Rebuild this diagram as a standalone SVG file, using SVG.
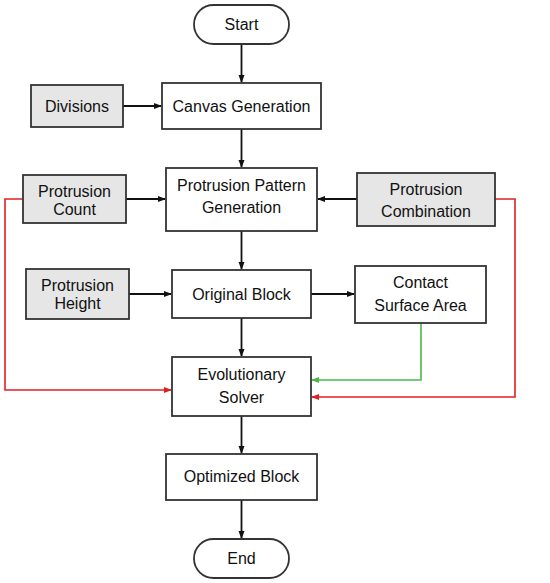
<svg xmlns="http://www.w3.org/2000/svg" width="550" height="583" viewBox="0 0 550 583">
<style>
.b{fill:#fff;stroke:#333;stroke-width:1.8}
.g{fill:#e6e6e6;stroke:#333;stroke-width:1.8}
text{font-family:"Liberation Sans",Arial,sans-serif;font-size:16px;fill:#111;text-anchor:middle}
.k{fill:none;stroke:#111;stroke-width:1.8}
.r{fill:none;stroke:#e02020;stroke-width:1.6}
.gr{fill:none;stroke:#4cb84c;stroke-width:1.6}
</style>
<defs>
<marker id="ak" markerWidth="8" markerHeight="8" refX="7" refY="4" orient="auto" markerUnits="userSpaceOnUse"><path d="M0,1 L8,4 L0,7 Z" fill="#111"/></marker>
<marker id="ar" markerWidth="8" markerHeight="8" refX="7" refY="4" orient="auto" markerUnits="userSpaceOnUse"><path d="M0,1 L8,4 L0,7 Z" fill="#e02020"/></marker>
<marker id="ag" markerWidth="8" markerHeight="8" refX="7" refY="4" orient="auto" markerUnits="userSpaceOnUse"><path d="M0,1 L8,4 L0,7 Z" fill="#4cb84c"/></marker>
</defs>
<rect width="550" height="583" fill="#fff"/>
<g id="connectors">
<line class="k" x1="241.5" y1="44" x2="241.5" y2="82" marker-end="url(#ak)"/>
<line class="k" x1="123" y1="106" x2="161" y2="106" marker-end="url(#ak)"/>
<line class="k" x1="241.5" y1="129" x2="241.5" y2="167" marker-end="url(#ak)"/>
<line class="k" x1="126" y1="199" x2="165" y2="199" marker-end="url(#ak)"/>
<line class="k" x1="357" y1="199" x2="318" y2="199" marker-end="url(#ak)"/>
<line class="k" x1="241.5" y1="231" x2="241.5" y2="269" marker-end="url(#ak)"/>
<line class="k" x1="129" y1="294" x2="171" y2="294" marker-end="url(#ak)"/>
<line class="k" x1="311" y1="294" x2="354" y2="294" marker-end="url(#ak)"/>
<line class="k" x1="241.5" y1="318" x2="241.5" y2="356" marker-end="url(#ak)"/>
<line class="k" x1="241.5" y1="416" x2="241.5" y2="453" marker-end="url(#ak)"/>
<line class="k" x1="241.5" y1="500" x2="241.5" y2="538" marker-end="url(#ak)"/>
<polyline class="r" points="23,199 5,199 5,390 171,390" marker-end="url(#ar)"/>
<polyline class="r" points="495,199 515,199 515,397 312,397" marker-end="url(#ar)"/>
<polyline class="gr" points="421,323 421,380 312,380" marker-end="url(#ag)"/>
</g>
<g id="start"><rect class="b" x="194" y="5" width="95" height="39" rx="19.5"/><text x="241.5" y="30">Start</text></g>
<g id="divisions"><rect class="g" x="31" y="85" width="92" height="42"/><text x="77" y="112">Divisions</text></g>
<g id="canvas"><rect class="b" x="162" y="83" width="159" height="46"/><text x="241.5" y="112">Canvas Generation</text></g>
<g id="pcount"><rect class="g" x="23" y="175" width="103" height="48"/><text x="74.5" y="197">Protrusion</text><text x="74.5" y="215">Count</text></g>
<g id="ppg"><rect class="b" x="166" y="168" width="151" height="63"/><text x="241.5" y="191">Protrusion Pattern</text><text x="241.5" y="213">Generation</text></g>
<g id="pcomb"><rect class="g" x="357" y="173" width="138" height="53"/><text x="426" y="195">Protrusion</text><text x="426" y="217">Combination</text></g>
<g id="pheight"><rect class="g" x="26" y="269" width="103" height="50"/><text x="77.5" y="291">Protrusion</text><text x="77.5" y="309">Height</text></g>
<g id="original"><rect class="b" x="172" y="270" width="139" height="48"/><text x="241.5" y="300">Original Block</text></g>
<g id="contact"><rect class="b" x="355" y="266" width="131" height="57"/><text x="420.5" y="288">Contact</text><text x="420.5" y="311">Surface Area</text></g>
<g id="solver"><rect class="b" x="172" y="357" width="139" height="59"/><text x="241.5" y="380">Evolutionary</text><text x="241.5" y="403">Solver</text></g>
<g id="optimized"><rect class="b" x="166" y="454" width="151" height="46"/><text x="241.5" y="482">Optimized Block</text></g>
<g id="end"><rect class="b" x="194" y="539" width="95" height="39" rx="19.5"/><text x="241.5" y="564">End</text></g>
</svg>
